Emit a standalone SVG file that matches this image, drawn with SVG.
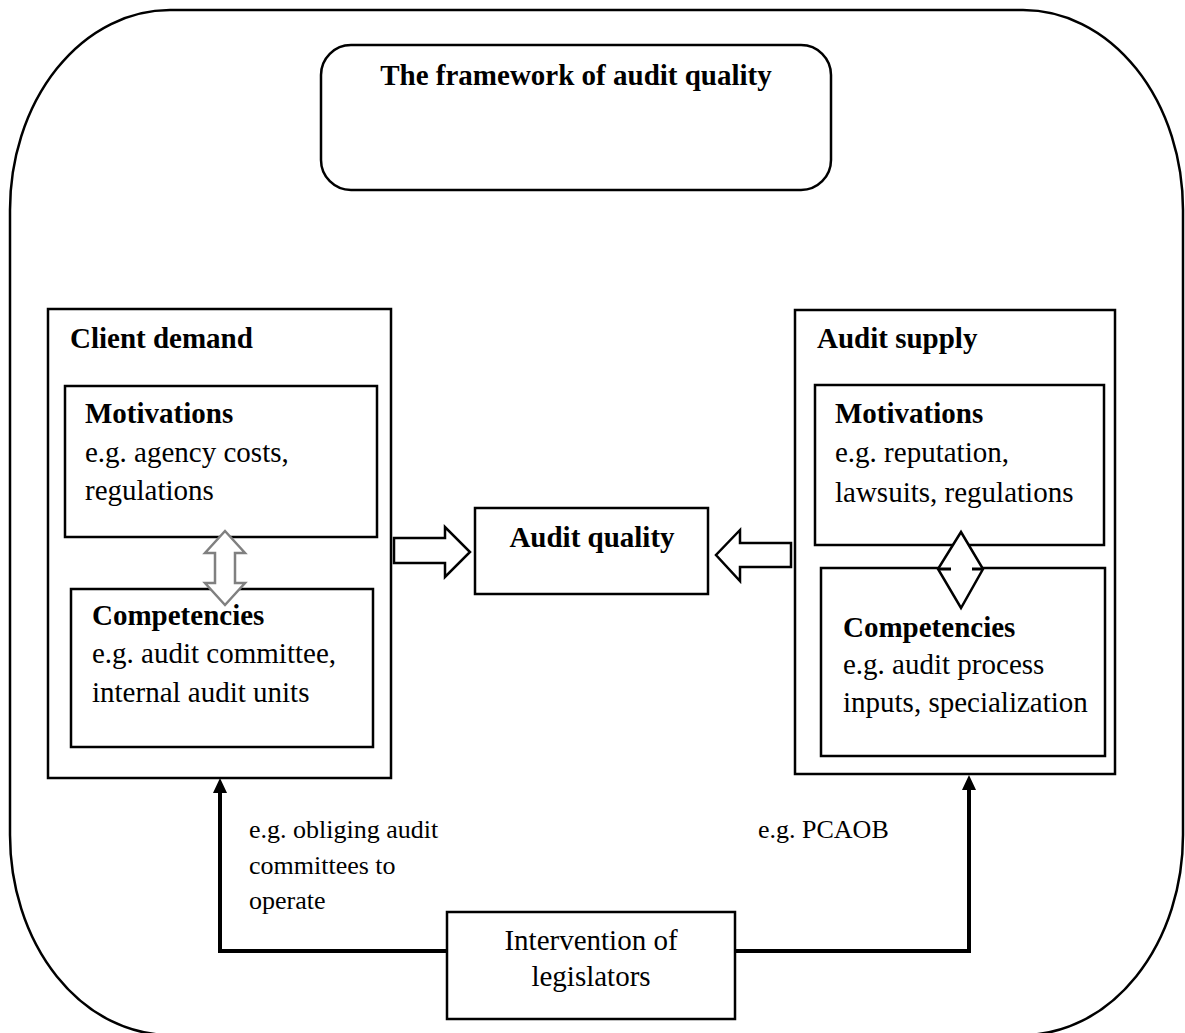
<svg xmlns="http://www.w3.org/2000/svg" width="1185" height="1033" viewBox="0 0 1185 1033">
<style>
.box{fill:#fff;stroke:#000;stroke-width:2.5}
.t{font-family:"Liberation Serif","Times New Roman",serif;font-size:29px;fill:#000}
.b{font-weight:bold}
.s{font-size:26px}
.conn{fill:none;stroke:#000;stroke-width:4}
.hollow{fill:#fff;stroke:#000;stroke-width:2.5;stroke-linejoin:miter}
</style>
<rect width="1185" height="1033" fill="#fff"/>
<g id="frame">
<rect x="10" y="10" width="1173" height="1025" rx="160" ry="200" fill="none" stroke="#000" stroke-width="2.5"/>
</g>
<g id="title">
<rect class="box" x="321" y="45" width="510" height="145" rx="30" ry="30"/>
<text class="t b" x="576" y="85" text-anchor="middle">The framework of audit quality</text>
</g>
<g id="client-demand">
<rect class="box" x="48" y="309" width="343" height="469"/>
<text class="t b" x="70" y="348">Client demand</text>
</g>
<g id="client-motivations">
<rect class="box" x="65" y="386" width="312" height="151"/>
<text class="t b" x="85" y="423">Motivations</text>
<text class="t" x="85" y="462">e.g. agency costs,</text>
<text class="t" x="85" y="500">regulations</text>
</g>
<g id="client-competencies">
<rect class="box" x="71" y="589" width="302" height="158"/>
<text class="t b" x="92" y="625">Competencies</text>
<text class="t" x="92" y="663">e.g. audit committee,</text>
<text class="t" x="92" y="702">internal audit units</text>
</g>
<g id="audit-supply">
<rect class="box" x="795" y="310" width="320" height="464"/>
<text class="t b" x="817" y="348">Audit supply</text>
</g>
<g id="supply-motivations">
<rect class="box" x="815" y="385" width="289" height="160"/>
<text class="t b" x="835" y="423">Motivations</text>
<text class="t" x="835" y="462">e.g. reputation,</text>
<text class="t" x="835" y="502">lawsuits, regulations</text>
</g>
<g id="supply-competencies">
<rect class="box" x="821" y="568" width="284" height="188"/>
<text class="t b" x="843" y="637">Competencies</text>
<text class="t" x="843" y="674">e.g. audit process</text>
<text class="t" x="843" y="712">inputs, specialization</text>
</g>
<g id="audit-quality">
<rect class="box" x="475" y="508" width="233" height="86"/>
<text class="t b" x="592" y="547" text-anchor="middle">Audit quality</text>
</g>
<g id="legislators">
<rect class="box" x="447" y="912" width="288" height="107"/>
<text class="t" x="591" y="950" text-anchor="middle">Intervention of</text>
<text class="t" x="591" y="986" text-anchor="middle">legislators</text>
</g>
<g id="connectors">
<path class="hollow" d="M394,538 L445,538 L445,527 L470,552 L445,577 L445,563 L394,563 Z"/>
<path class="hollow" d="M791,543 L740,543 L740,530 L716,555 L740,581 L740,567 L791,567 Z"/>
<path d="M225,531 L245,553 L235,553 L235,583 L245,583 L225,605 L205,583 L215,583 L215,553 L205,553 Z" fill="#fff" stroke="#808080" stroke-width="2.5" stroke-linejoin="miter"/>
<path d="M961,532 L983,569 L961,608 L938,569 Z" fill="#fff" stroke="#000" stroke-width="2.5"/>
<path d="M938,569 L951,569 M972,569 L983,569" stroke="#000" stroke-width="3"/>
<path class="conn" d="M447,951 L220,951 L220,790"/>
<path d="M220,778 L227,793 L213,793 Z" fill="#000"/>
<path class="conn" d="M735,951 L969,951 L969,788"/>
<path d="M969,775 L976,790 L962,790 Z" fill="#000"/>
<text class="t s" x="249" y="838">e.g. obliging audit</text>
<text class="t s" x="249" y="874">committees to</text>
<text class="t s" x="249" y="909">operate</text>
<text class="t s" x="758" y="838">e.g. PCAOB</text>
</g>
</svg>
